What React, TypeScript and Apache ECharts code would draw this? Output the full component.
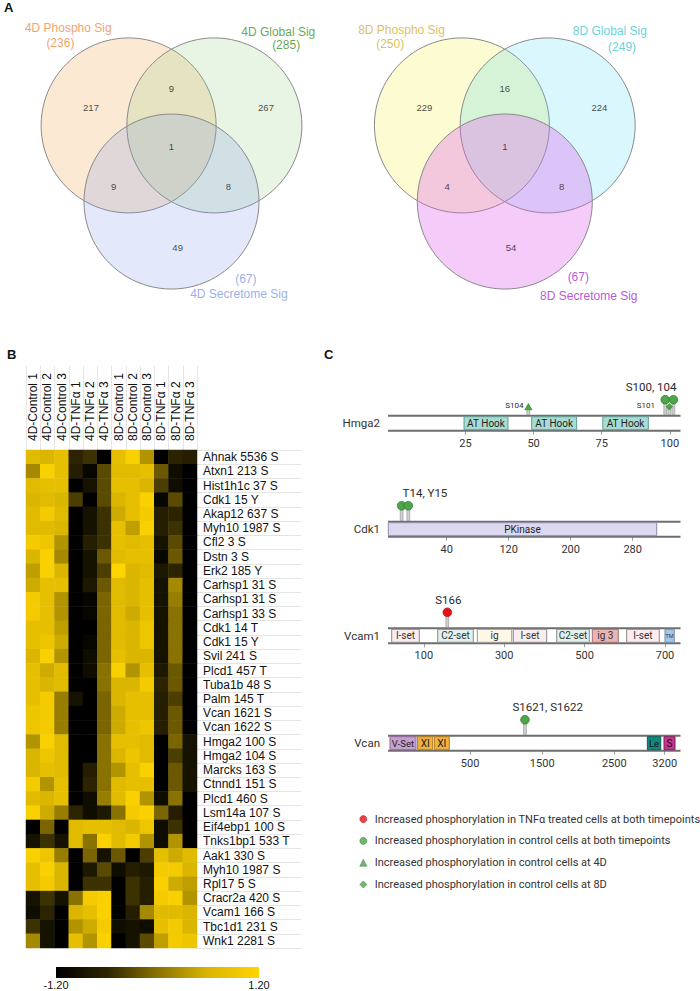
import React, { useEffect, useRef } from "react";
import * as echarts from "echarts";

// ---------------- Panel A: Venn diagrams ----------------
const vennSetNames4D = ["4D Phospho Sig", "4D Global Sig", "4D Secretome Sig"];
const vennSetSizes4D = [236, 285, 67];
// region order: Phospho only, Global only, Secretome only, P∩G, P∩S, G∩S, all three
const vennRegionCounts4D = [217, 267, 49, 9, 9, 8, 1];

const vennSetNames8D = ["8D Phospho Sig", "8D Global Sig", "8D Secretome Sig"];
const vennSetSizes8D = [250, 249, 67];
const vennRegionCounts8D = [229, 224, 54, 16, 4, 8, 1];

// ---------------- Panel B: heatmap ----------------
const sampleLabels = [
  "4D-Control 1", "4D-Control 2", "4D-Control 3",
  "4D-TNFα 1", "4D-TNFα 2", "4D-TNFα 3",
  "8D-Control 1", "8D-Control 2", "8D-Control 3",
  "8D-TNFα 1", "8D-TNFα 2", "8D-TNFα 3",
];
const phosphoSites = [
  "Ahnak 5536 S", "Atxn1 213 S", "Hist1h1c 37 S", "Cdk1 15 Y", "Akap12 637 S",
  "Myh10 1987 S", "Cfl2 3 S", "Dstn 3 S", "Erk2 185 Y", "Carhsp1 31 S",
  "Carhsp1 31 S", "Carhsp1 33 S", "Cdk1 14 T", "Cdk1 15 Y", "Svil 241 S",
  "Plcd1 457 T", "Tuba1b 48 S", "Palm 145 T", "Vcan 1621 S", "Vcan 1622 S",
  "Hmga2 100 S", "Hmga2 104 S", "Marcks 163 S", "Ctnnd1 151 S", "Plcd1 460 S",
  "Lsm14a 107 S", "Eif4ebp1 100 S", "Tnks1bp1 533 T", "Aak1 330 S", "Myh10 1987 S",
  "Rpl17 5 S", "Cracr2a 420 S", "Vcam1 166 S", "Tbc1d1 231 S", "Wnk1 2281 S",
];
// z-scores, one row per site, columns in sampleLabels order
const zScores = [
  [0.7, 0.6, 0.8, -0.6, -0.5, -1.2, 0.8, 1.1, 0.3, -1.2, -0.6, -0.7],
  [0.2, 1.1, 0.8, -0.7, -1.1, -0.3, 0.7, 0.7, 0.8, -0.2, -1.0, -1.2],
  [0.7, 0.8, 0.8, -1.2, -0.9, -0.3, 0.8, 0.8, 0.6, -0.4, -1.0, -1.2],
  [0.6, 0.7, 0.6, -0.4, -1.2, -0.3, 0.6, 0.8, 1.1, -1.1, -0.3, -1.2],
  [0.7, 1.0, 0.7, -1.2, -0.9, -0.5, 0.5, 0.8, 1.0, -0.7, -0.6, -1.2],
  [0.7, 0.7, 0.6, -1.2, -0.9, -0.5, 0.8, 0.4, 1.1, -0.7, -0.5, -1.2],
  [1.0, 0.9, 0.3, -1.2, -0.7, -0.5, 0.8, 0.7, 0.8, -0.9, -0.3, -1.2],
  [0.6, 1.1, 0.2, -1.2, -0.9, -0.2, 0.7, 0.8, 0.8, -1.1, -0.2, -1.2],
  [0.4, 1.1, 0.6, -1.2, -0.9, -0.4, 1.2, 0.6, 0.7, -0.8, -0.6, -1.2],
  [0.5, 0.8, 0.8, -1.2, -0.8, -0.2, 0.7, 0.6, 0.8, -0.9, 0.2, -1.2],
  [1.0, 0.8, 0.3, -1.2, -1.1, -0.1, 0.7, 0.6, 0.8, -0.9, 0.1, -1.2],
  [1.0, 0.8, 0.3, -1.2, -1.1, -0.1, 0.7, 0.5, 0.8, -0.9, 0.0, -1.2],
  [0.8, 0.8, 0.4, -1.2, -1.2, -0.1, 0.7, 0.6, 0.9, -0.9, 0.0, -1.2],
  [0.8, 0.9, 0.5, -1.2, -1.1, -0.1, 0.7, 0.6, 0.9, -0.9, 0.0, -1.2],
  [0.6, 1.1, 0.3, -1.2, -1.0, -0.1, 0.8, 0.6, 0.6, -0.9, 0.0, -1.2],
  [0.8, 0.5, 0.7, -1.2, -1.0, 0.0, 1.1, 0.3, 0.8, -0.8, -0.2, -1.2],
  [0.8, 0.6, 0.7, -1.2, -1.2, 0.0, 0.6, 0.6, 1.0, -0.6, -0.2, -1.2],
  [0.8, 1.0, 0.1, -0.9, -1.2, -0.1, 0.6, 0.8, 0.8, -0.7, -0.4, -1.2],
  [0.9, 1.0, 0.1, -1.2, -1.2, -0.1, 0.5, 0.8, 0.8, -0.7, -0.2, -1.2],
  [0.9, 1.0, 0.1, -1.2, -1.2, -0.1, 0.5, 0.8, 0.9, -0.7, -0.2, -1.2],
  [0.3, 1.1, 0.7, -1.2, -1.2, 0.0, 0.8, 0.8, 0.7, -1.2, -0.1, -0.9],
  [0.6, 0.9, 0.7, -1.2, -1.2, 0.0, 0.6, 0.9, 0.7, -1.2, -0.4, -0.9],
  [0.6, 0.8, 0.7, -1.2, -0.7, 0.0, 0.3, 0.8, 1.1, -1.2, -0.2, -0.9],
  [1.0, 0.3, 0.8, -1.2, -0.6, 0.0, 0.7, 0.8, 0.8, -1.2, -0.2, -0.9],
  [0.7, 0.6, 0.8, -1.2, -1.0, 0.1, 0.7, 1.1, 0.3, -1.0, 0.0, -1.2],
  [1.1, 0.5, 0.1, -0.6, -1.0, -0.8, 0.0, 1.0, 1.1, -0.1, -0.7, -1.2],
  [-1.2, -0.1, -1.2, 0.7, 0.8, 0.8, 0.7, 0.6, 0.9, -1.0, -0.5, -1.2],
  [-0.9, -0.5, -0.9, 0.7, 0.0, 1.1, 0.7, 1.0, 0.3, -1.0, 0.3, -1.2],
  [1.1, 0.9, 0.1, -1.2, -0.1, -0.9, -0.2, -1.2, -0.4, 0.8, 0.5, 0.7],
  [0.8, 1.1, 0.6, -1.2, -0.8, -0.3, -1.0, -0.7, -0.8, 1.0, 1.0, 0.6],
  [0.8, 1.0, 0.6, -1.2, -0.5, -0.5, -1.2, -0.5, -0.7, 1.1, 0.5, 0.4],
  [-0.9, -0.5, -0.9, 0.0, 1.0, 1.1, -1.2, -0.5, -0.7, 1.0, 1.1, 0.3],
  [-1.0, -0.6, -1.2, 0.6, 0.8, 1.1, -1.2, -0.7, 0.2, 0.7, 0.7, 0.6],
  [-0.5, -0.9, -1.2, 0.3, 0.5, 1.0, -1.0, -0.9, -1.0, 0.8, 1.0, 0.6],
  [0.2, -0.9, -1.2, 0.8, 0.3, 1.1, -1.2, -0.9, -0.3, 0.4, 1.0, 0.9],
];
const colorScaleMin = -1.2;
const colorScaleMax = 1.2;
const colorScaleLabels = ["-1.20", "1.20"];

// ---------------- Panel C: protein schematics ----------------
// positions are read off the picture against each schematic's own tick marks
const hmga2Ticks = [25, 50, 75, 100];
const hmga2Extent = [-3.4, 103.9];
const hmga2Domains = [
  { name: "AT Hook", start: 24.5, end: 40.6 },
  { name: "AT Hook", start: 49.3, end: 65.8 },
  { name: "AT Hook", start: 75.4, end: 92.1 },
];
const hmga2Sites = [
  { residue: 98.3, kind: "controlBoth" },
  { residue: 101.3, kind: "controlBoth" },
  { residue: 99.8, kind: "control8D" },
  { residue: 48.1, kind: "control4D" },
];
const hmga2SiteLabels = [
  { text: "S100, 104", residue: 93.1, tier: "high" },
  { text: "S101", residue: 91.2, tier: "low" },
  { text: "S104", residue: 43.0, tier: "low" },
];

const cdk1Ticks = [40, 120, 200, 280];
const cdk1Extent = [-35.7, 341.7];
const cdk1Domains = [{ name: "PKinase", start: -35.3, end: 311 }];
const cdk1Sites = [
  { residue: -18.1, kind: "controlBoth" },
  { residue: -9.5, kind: "controlBoth" },
];
const cdk1SiteLabels = [{ text: "T14, Y15", residue: 12, tier: "high" }];

const vcam1Ticks = [100, 300, 500, 700];
const vcam1Extent = [10.9, 738.6];
const vcam1Domains = [
  { name: "I-set", start: 20.1, end: 88.8 },
  { name: "C2-set", start: 134.6, end: 223.1 },
  { name: "ig", start: 233.1, end: 318.7 },
  { name: "I-set", start: 322.6, end: 405.7 },
  { name: "C2-set", start: 430.6, end: 511.7 },
  { name: "ig 3", start: 519.2, end: 583.8 },
  { name: "I-set", start: 604.7, end: 685.8 },
  { name: "TM", start: 700, end: 723.1 },
];
const vcam1Sites = [{ residue: 158.5, kind: "tnfBoth" }];
const vcam1SiteLabels = [{ text: "S166", residue: 161, tier: "high" }];

const vcanTicks = [500, 1500, 2500, 3200];
const vcanExtent = [-639.7, 3419];
const vcanDomains = [
  { name: "V-Set", start: -612, end: -251 },
  { name: "XI", start: -228, end: -19 },
  { name: "XI", start: 3, end: 211 },
  { name: "Le", start: 2959, end: 3145 },
  { name: "S", start: 3190, end: 3343 },
];
const vcanSites = [{ residue: 1261, kind: "controlBoth" }];
const vcanSiteLabels = [{ text: "S1621, S1622", residue: 1576, tier: "high" }];

const legendEntries = [
  { label: "Increased phosphorylation in TNFα treated cells at both timepoints", kind: "tnfBoth" },
  { label: "Increased phosphorylation in control cells at both timepoints", kind: "controlBoth" },
  { label: "Increased phosphorylation in control cells at 4D", kind: "control4D" },
  { label: "Increased phosphorylation in control cells at 8D", kind: "control8D" },
];

// ---------------- styles / layout ----------------
const SANS = "'Liberation Sans', Arial, sans-serif";
const ROBOTO = "Roboto, 'Noto Sans', sans-serif";

const heatColors = ["#000000", "#2c2400", "#8a7200", "#dab600", "#ffd500"];

const vennCentres = [[-0.49, -0.29], [0.49, -0.29], [0, 0.58]];
const vennRegionSpots = [[-0.92, -0.49], [1.08, -0.5], [0.07, 1.1], [0, -0.71], [-0.66, 0.41], [0.65, 0.41], [0, -0.05]];

const domainStyle: Record<string, any> = {
  "AT Hook": { fill: "#A8DCD2", stroke: "#5F9C93", text: "#1f1f1f", size: 10 },
  PKinase: { fill: "#DCD8EF", stroke: "#8D89AD", text: "#1f1f1f", size: 10 },
  "I-set": { fill: "#FBECEF", stroke: "#8a8a8a", text: "#333", size: 10 },
  "C2-set": { fill: "#E2F1EC", stroke: "#8a8a8a", text: "#333", size: 10 },
  ig: { fill: "#FDF8E7", stroke: "#9a9a9a", text: "#333", size: 10 },
  "ig 3": { fill: "#E8B5B5", stroke: "#A07070", text: "#333", size: 10 },
  TM: { fill: "#A6C6E8", stroke: "#6F8FB5", text: "#335", size: 5.5 },
  "V-Set": { fill: "#C7A0D1", stroke: "#8E6A9A", text: "#222", size: 9.5 },
  XI: { fill: "#F1B13F", stroke: "#B07B1F", text: "#222", size: 10 },
  Le: { fill: "#16877C", stroke: "#0E5E56", text: "#111", size: 9.5 },
  S: { fill: "#C1378D", stroke: "#7F1F5B", text: "#2a0a1f", size: 10 },
};

const siteStyle: Record<string, any> = {
  tnfBoth: { icon: "circle", fill: "#E5141B", stroke: "#A80E12", stem: 16 },
  controlBoth: { icon: "circle", fill: "#4EA64B", stroke: "#2F7A2D", stem: 16 },
  control4D: { icon: "triangle", fill: "#4EA64B", stroke: "#2F7A2D", stem: 8.5 },
  control8D: { icon: "diamond", fill: "#4EA64B", stroke: "#2F7A2D", stem: 9 },
};

function buildOption() {
  const grid: any[] = [];
  const xAxis: any[] = [];
  const yAxis: any[] = [];
  const series: any[] = [];

  // ---------- Venn diagrams ----------
  const venns = [
    {
      cx: 171.5, names: vennSetNames4D, sizes: vennSetSizes4D, counts: vennRegionCounts4D,
      fills: ["rgba(243,154,60,0.22)", "rgba(139,203,122,0.2)", "rgba(126,149,230,0.22)"],
      colors: ["#F0883C", "#3A8F2A", "#7C9AE6"],
      nameSpots: [[-1.18, -1.4], [1.22, -1.36], [0.77, 1.64]],
      sizeSpots: [[-1.27, -1.23], [1.31, -1.21], [0.85, 1.46]],
    },
    {
      cx: 504.8, names: vennSetNames8D, sizes: vennSetSizes8D, counts: vennRegionCounts8D,
      fills: ["rgba(240,238,48,0.22)", "rgba(64,216,240,0.2)", "rgba(224,96,240,0.33)"],
      colors: ["#D4AE2C", "#3CC8D4", "#A52ACF"],
      nameSpots: [[-1.18, -1.38], [1.2, -1.37], [0.96, 1.66]],
      sizeSpots: [[-1.31, -1.22], [1.34, -1.19], [0.84, 1.44]],
    },
  ];
  const unit = 87.5;
  venns.forEach((v) => {
    const gi = grid.length;
    grid.push({ left: v.cx - 1.9 * unit, top: 150.8 - 1.72 * unit, width: 3.8 * unit, height: 3.44 * unit });
    xAxis.push({ gridIndex: gi, type: "value", min: -1.9, max: 1.9, show: false });
    yAxis.push({ gridIndex: gi, type: "value", min: -1.72, max: 1.72, inverse: true, show: false });
    series.push({
      type: "custom", xAxisIndex: gi, yAxisIndex: gi, silent: true, z: 2, clip: false,
      data: vennCentres, encode: { x: 0, y: 1 },
      renderItem: (p: any, api: any) => {
        const c = api.coord([api.value(0), api.value(1)]);
        const r = api.size([1, 0])[0];
        return {
          type: "circle", shape: { cx: c[0], cy: c[1], r },
          style: { fill: v.fills[p.dataIndex], stroke: "#8a8a8a", lineWidth: 1 },
        };
      },
    });
    series.push({
      type: "scatter", xAxisIndex: gi, yAxisIndex: gi, silent: true, z: 5, clip: false, symbolSize: 0,
      data: vennRegionSpots.map((s, i) => ({
        value: s,
        label: { show: true, position: "inside", formatter: String(v.counts[i]), color: "#1a1a1a", fontSize: 9.5, fontFamily: SANS },
      })),
    });
    series.push({
      type: "scatter", xAxisIndex: gi, yAxisIndex: gi, silent: true, z: 5, clip: false, symbolSize: 0,
      data: [
        ...v.nameSpots.map((s, i) => ({
          value: s,
          label: { show: true, position: "inside", formatter: v.names[i], color: v.colors[i], fontSize: 12, fontFamily: SANS },
        })),
        ...v.sizeSpots.map((s, i) => ({
          value: s,
          label: { show: true, position: "inside", formatter: "(" + v.sizes[i] + ")", color: v.colors[i], fontSize: 12, fontFamily: SANS },
        })),
      ],
    });
  });

  // ---------- Heatmap ----------
  const hg = grid.length;
  grid.push({ left: 26, top: 450, width: 171, height: 498 });
  xAxis.push({
    gridIndex: hg, type: "category", data: sampleLabels, position: "top",
    axisLine: { show: false }, axisTick: { show: false }, splitLine: { show: false },
    axisLabel: { rotate: -90, margin: 9, interval: 0, fontSize: 12, color: "#111", fontFamily: SANS },
  });
  yAxis.push({ gridIndex: hg, type: "category", data: phosphoSites, inverse: true, show: false });
  const heatIndex = series.length;
  series.push({
    type: "heatmap", xAxisIndex: hg, yAxisIndex: hg, silent: true,
    data: zScores.flatMap((row, r) => row.map((val, c) => [c, r, val])),
  });

  // row labels + separators
  const rg = grid.length;
  grid.push({ left: 197, top: 450, width: 104, height: 498 });
  xAxis.push({ gridIndex: rg, type: "value", min: 0, max: 1, show: false });
  yAxis.push({
    gridIndex: rg, type: "category", data: phosphoSites, inverse: true, position: "left",
    axisLine: { show: false }, axisTick: { show: false },
    axisLabel: { inside: true, margin: 6, interval: 0, fontSize: 12, color: "#111", fontFamily: SANS },
    splitLine: { show: true, interval: 0, lineStyle: { color: "#e4e4e4", width: 1 } },
  });
  series.push({ type: "scatter", xAxisIndex: rg, yAxisIndex: rg, data: [], silent: true });

  // header column separators
  const cg = grid.length;
  grid.push({ left: 26, top: 366, width: 171, height: 84 });
  xAxis.push({
    gridIndex: cg, type: "category", data: sampleLabels,
    axisLine: { show: false }, axisTick: { show: false }, axisLabel: { show: false },
    splitLine: { show: true, interval: 0, lineStyle: { color: "#e6e6e6", width: 1 } },
  });
  yAxis.push({ gridIndex: cg, type: "value", min: 0, max: 1, show: false });
  series.push({ type: "scatter", xAxisIndex: cg, yAxisIndex: cg, data: [], silent: true });

  // ---------- Protein tracks ----------
  const tracks = [
    { name: "Hmga2", extent: hmga2Extent, ticks: hmga2Ticks, domains: hmga2Domains, sites: hmga2Sites, labels: hmga2SiteLabels, top: 415.7 },
    { name: "Cdk1", extent: cdk1Extent, ticks: cdk1Ticks, domains: cdk1Domains, sites: cdk1Sites, labels: cdk1SiteLabels, top: 521.7 },
    { name: "Vcam1", extent: vcam1Extent, ticks: vcam1Ticks, domains: vcam1Domains, sites: vcam1Sites, labels: vcam1SiteLabels, top: 628.3 },
    { name: "Vcan", extent: vcanExtent, ticks: vcanTicks, domains: vcanDomains, sites: vcanSites, labels: vcanSiteLabels, top: 735.7 },
  ];
  let firstTrackGrid = -1;
  tracks.forEach((t) => {
    const gi = grid.length;
    if (firstTrackGrid < 0) firstTrackGrid = gi;
    grid.push({ left: 388, top: t.top, width: 292.5, height: 15 });
    xAxis.push({
      gridIndex: gi, type: "value", min: t.extent[0], max: t.extent[1],
      axisLine: { show: false }, splitLine: { show: false },
      axisTick: { show: true, customValues: t.ticks, length: 4, lineStyle: { color: "#a0a0a0", width: 1 } },
      axisLabel: {
        show: true, customValues: t.ticks, margin: 7, fontSize: 11, color: "#333", fontFamily: ROBOTO,
        formatter: (val: number) => String(val),
      },
    });
    yAxis.push({
      gridIndex: gi, type: "category", data: [t.name],
      axisLine: { show: false }, axisTick: { show: false }, splitLine: { show: false },
      axisLabel: { margin: 8, fontSize: 11.5, color: "#333", fontFamily: ROBOTO },
    });
    const band = (api: any, v: number) => {
      const c = api.coord([v, 0]);
      const h = api.size([0, 1])[1];
      return { x: c[0], top: c[1] - h / 2, bot: c[1] + h / 2 };
    };
    // backbone
    series.push({
      type: "custom", xAxisIndex: gi, yAxisIndex: gi, silent: true, z: 2, clip: false,
      data: [[t.extent[0], t.extent[1], 0]], encode: { x: [0, 1], y: 2 },
      renderItem: (p: any, api: any) => {
        const a = band(api, api.value(0));
        const b = band(api, api.value(1));
        return {
          type: "group",
          children: [
            { type: "rect", shape: { x: a.x, y: a.top, width: b.x - a.x, height: a.bot - a.top }, style: { fill: "#ffffff" } },
            { type: "line", shape: { x1: a.x, y1: a.top, x2: b.x, y2: a.top }, style: { stroke: "#6e6e6e", lineWidth: 2 } },
            { type: "line", shape: { x1: a.x, y1: a.bot, x2: b.x, y2: a.bot }, style: { stroke: "#6e6e6e", lineWidth: 2 } },
          ],
        };
      },
    });
    // domains
    series.push({
      type: "custom", xAxisIndex: gi, yAxisIndex: gi, silent: true, z: 3, clip: false,
      data: t.domains.map((d) => [d.start, d.end, 0]), encode: { x: [0, 1], y: 2 },
      renderItem: (p: any, api: any) => {
        const d = t.domains[p.dataIndex];
        const st = domainStyle[d.name];
        const a = band(api, api.value(0));
        const b = band(api, api.value(1));
        return {
          type: "group",
          children: [
            {
              type: "rect",
              shape: { x: a.x, y: a.top + 1, width: b.x - a.x, height: a.bot - a.top - 2 },
              style: { fill: st.fill, stroke: st.stroke, lineWidth: 1 },
            },
            {
              type: "text",
              style: {
                text: d.name, x: (a.x + b.x) / 2, y: (a.top + a.bot) / 2,
                align: "center", verticalAlign: "middle", textAlign: "center", textVerticalAlign: "middle",
                fontSize: st.size, fontFamily: ROBOTO, fill: st.text,
              },
            },
          ],
        };
      },
    });
    // phosphosites
    series.push({
      type: "custom", xAxisIndex: gi, yAxisIndex: gi, silent: true, z: 4, clip: false,
      data: t.sites.map((s) => [s.residue, 0]), encode: { x: 0, y: 1 },
      renderItem: (p: any, api: any) => {
        const s = t.sites[p.dataIndex];
        const st = siteStyle[s.kind];
        const a = band(api, api.value(0));
        const base = a.top - 1;
        const cy = a.top - st.stem;
        const children: any[] = [
          {
            type: "rect", shape: { x: a.x - 1.4, y: cy, width: 2.8, height: base - cy },
            style: { fill: "#d2d2d2", stroke: "#8c8c8c", lineWidth: 0.6 },
          },
        ];
        if (st.icon === "circle") {
          children.push({ type: "circle", shape: { cx: a.x, cy, r: 4.3 }, style: { fill: st.fill, stroke: st.stroke, lineWidth: 0.8 } });
        } else if (st.icon === "triangle") {
          children.push({
            type: "polygon", shape: { points: [[a.x, cy - 3.6], [a.x - 3.6, cy + 2.6], [a.x + 3.6, cy + 2.6]] },
            style: { fill: st.fill, stroke: st.stroke, lineWidth: 0.6 },
          });
        } else {
          children.push({
            type: "polygon", shape: { points: [[a.x, cy - 3.2], [a.x + 3.2, cy], [a.x, cy + 3.2], [a.x - 3.2, cy]] },
            style: { fill: st.fill, stroke: st.stroke, lineWidth: 0.6 },
          });
        }
        return { type: "group", children };
      },
    });
    // site labels
    series.push({
      type: "custom", xAxisIndex: gi, yAxisIndex: gi, silent: true, z: 5, clip: false,
      data: t.labels.map((l) => [l.residue, 0]), encode: { x: 0, y: 1 },
      renderItem: (p: any, api: any) => {
        const l = t.labels[p.dataIndex];
        const a = band(api, api.value(0));
        const high = l.tier === "high";
        return {
          type: "text",
          style: {
            text: l.text, x: a.x, y: a.top - (high ? 28.5 : 10.3),
            align: "center", verticalAlign: "middle", textAlign: "center", textVerticalAlign: "middle",
            fontSize: high ? 11.5 : 8, fontFamily: ROBOTO, fill: "#2a2a2a",
          },
        };
      },
    });
  });

  // legend-carrying series (no data of their own)
  legendEntries.forEach((e) => {
    series.push({
      type: "scatter", name: e.label, data: [], xAxisIndex: firstTrackGrid, yAxisIndex: firstTrackGrid,
      symbol: siteStyle[e.kind].icon, itemStyle: { color: siteStyle[e.kind].fill },
    });
  });

  const gradientStops = heatColors.map((c, i) => ({ offset: i / (heatColors.length - 1), color: c }));

  return {
    animation: false,
    textStyle: { fontFamily: SANS },
    grid,
    xAxis,
    yAxis,
    series,
    visualMap: {
      type: "continuous", seriesIndex: heatIndex, min: colorScaleMin, max: colorScaleMax,
      show: false, inRange: { color: heatColors },
    },
    legend: {
      orient: "vertical", left: 354.5, top: 808, itemWidth: 7, itemHeight: 7, itemGap: 9.6,
      selectedMode: false,
      data: legendEntries.map((e) => ({
        name: e.label, icon: siteStyle[e.kind].icon,
        itemStyle: { color: siteStyle[e.kind].fill, borderColor: siteStyle[e.kind].stroke, borderWidth: 0.6 },
      })),
      textStyle: { fontSize: 11, lineHeight: 12.2, color: "#333", fontFamily: ROBOTO, padding: [0, 0, 0, 3] },
    },
    graphic: [
      { type: "text", x: 4, y: 1, style: { text: "A", font: "bold 13px " + SANS, fill: "#111" } },
      { type: "text", x: 7, y: 348, style: { text: "B", font: "bold 13px " + SANS, fill: "#111" } },
      { type: "text", x: 324, y: 348, style: { text: "C", font: "bold 13px " + SANS, fill: "#111" } },
      {
        type: "rect", shape: { x: 56, y: 967, width: 203, height: 11 }, silent: true,
        style: { fill: new echarts.graphic.LinearGradient(0, 0, 1, 0, gradientStops) },
      },
      {
        type: "text", x: 56, y: 985,
        style: { text: colorScaleLabels[0], font: "11px " + SANS, fill: "#111", align: "center", verticalAlign: "middle", textAlign: "center", textVerticalAlign: "middle" },
      },
      {
        type: "text", x: 259, y: 985,
        style: { text: colorScaleLabels[1], font: "11px " + SANS, fill: "#111", align: "center", verticalAlign: "middle", textAlign: "center", textVerticalAlign: "middle" },
      },
    ],
  };
}

export default function App() {
  const ref = useRef<HTMLDivElement>(null);
  useEffect(() => {
    document.body.style.margin = "0";
    const chart = echarts.init(ref.current as HTMLDivElement, undefined, { renderer: "svg" });
    chart.setOption(buildOption() as any);
    return () => chart.dispose();
  }, []);
  return <div ref={ref} style={{ width: 700, height: 991 }} />;
}
